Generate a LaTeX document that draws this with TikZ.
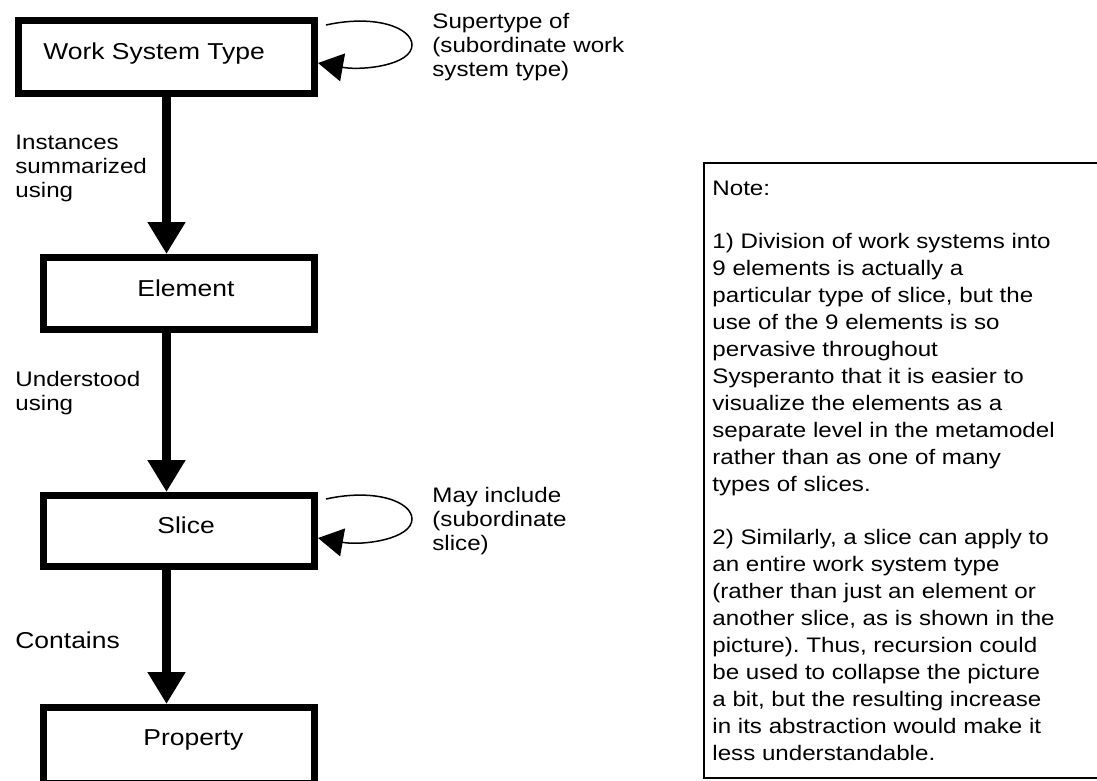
\documentclass[tikz,border=0pt]{standalone}
\usepackage{fontspec}
\setmainfont{Liberation Sans}[FakeStretch=1.15]
\usetikzlibrary{arrows.meta, calc}
\frenchspacing

\begin{document}
\begin{tikzpicture}[
        x=0.5pt, y=-0.5pt,
        box/.style={draw, line width=3.5pt, minimum width=#1, inner sep=0pt},
        boxtext/.style={font=\fontsize{11.5}{14}\selectfont, anchor=base west, inner sep=0pt},
        edgetext/.style={font=\fontsize{10.5}{12}\selectfont, align=left, anchor=base west, inner sep=0pt},
        notetext/.style={font=\fontsize{10.5}{13.45}\selectfont, align=left, anchor=base west, inner sep=0pt},
        bigarrow/.style={line width=4.35pt, -{Triangle[length=16pt, width=18pt]}},
        looparrow/.style={line width=0.75pt, -{Triangle[length=12.5pt, width=14pt]}}
      ]
        \useasboundingbox (0,0) rectangle (1097,781);

        \node[box=148pt, minimum height=36.5pt] (wst) at (166.5,57) {};
        \node[box=135.5pt, minimum height=36pt] (elem) at (179,293.5) {};
        \node[box=135.5pt, minimum height=35.5pt] (slice) at (179,531) {};
        \node[box=135.5pt, minimum height=37.75pt] (prop) at (179,745.25) {};

        \node[boxtext] (wsttext) at (43,60) {Work System Type};
        \node[boxtext] (elemtext) at (137,296) {Element};
        \node[boxtext] (slicetext) at (157,533) {Slice};
        \node[boxtext] (proptext) at (143,745) {Property};

        \draw[bigarrow] (wst.south) -- (wst.south |- elem.north);
        \draw[bigarrow] (wst.south |- elem.south) -- (wst.south |- slice.north);
        \draw[bigarrow] (wst.south |- slice.south) -- (wst.south |- prop.north);

        \coordinate (wstloop) at ($(wst.north east)+(8,8)$);
        \coordinate (sliceloop) at ($(slice.north east)+(8,7)$);
        \draw[looparrow] (wstloop) .. controls +(50,-11) and +(0,-17) .. ($(wstloop)+(86,20)$)
          .. controls +(0,20) and +(45,8) .. ($(wst.east)+(0,6)$);
        \draw[looparrow] (sliceloop) .. controls +(50,-11) and +(0,-17) .. ($(sliceloop)+(86,20)$)
          .. controls +(0,20) and +(45,8) .. ($(slice.east)+(0,7)$);

        % base anchor sits on the last line
        \node[edgetext] (supertype) at (432,76) {Supertype of\\(subordinate work\\system type)};
        \node[edgetext] (instances) at (15,197) {Instances\\summarized\\using};
        \node[edgetext] (understood) at (15,410) {Understood\\using};
        \node[edgetext] (mayinclude) at (432,550) {May include\\(subordinate\\slice)};
        \node[boxtext] (contains) at (15,648) {Contains};

        \draw[line width=1pt] (704,163) rectangle (1100,778);
        \node[notetext] (note) at (712,760) {Note:\\[13.45pt]
          1) Division of work systems into\\
          9 elements is actually a\\
          particular type of slice, but the\\
          use of the 9 elements is so\\
          pervasive throughout\\
          Sysperanto that it is easier to\\
          visualize the elements as a\\
          separate level in the metamodel\\
          rather than as one of many\\
          types of slices.\\[13.45pt]
          2) Similarly, a slice can apply to\\
          an entire work system type\\
          (rather than just an element or\\
          another slice, as is shown in the\\
          picture). Thus, recursion could\\
          be used to collapse the picture\\
          a bit, but the resulting increase\\
          in its abstraction would make it\\
          less understandable.};
      \end{tikzpicture}
\end{document}
